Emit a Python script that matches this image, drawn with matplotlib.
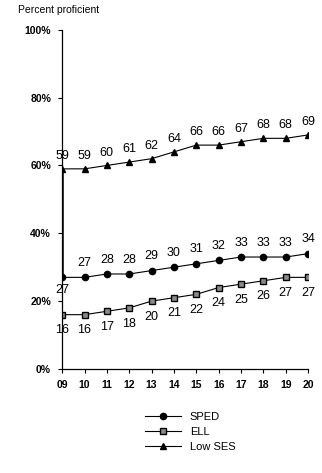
import matplotlib.pyplot as plt
import numpy as np

years = ['09', '10', '11', '12', '13', '14', '15', '16', '17', '18', '19', '20']
sped = [27, 27, 28, 28, 29, 30, 31, 32, 33, 33, 33, 34]
ell = [16, 16, 17, 18, 20, 21, 22, 24, 25, 26, 27, 27]
low_ses = [59, 59, 60, 61, 62, 64, 66, 66, 67, 68, 68, 69]
y_ticks = [0, 20, 40, 60, 80, 100]

plt.rcParams['font.family'] = ['Liberation Sans', 'DejaVu Sans']

fig = plt.figure(figsize=(3.22, 4.73), dpi=100)
ax = fig.add_axes([0.193, 0.22, 0.764, 0.717])
x = np.arange(len(years))

ax.plot(x, sped, '-', color='black', lw=0.8, marker='o', ms=4.5, label='SPED')
ax.plot(x, ell, '-', color='black', lw=0.8, marker='s', ms=4.5,
        markerfacecolor='#8a8a8a', markeredgecolor='black', label='ELL')
ax.plot(x, low_ses, '-', color='black', lw=0.8, marker='^', ms=5, label='Low SES')

# heavier stretch of the axis between the first points
ax.plot([0, 0], [sped[0], low_ses[0]], color='black', lw=1.8, zorder=3)

lab = dict(textcoords='offset points', ha='center', fontsize=9)
for i, v in enumerate(low_ses):
    ax.annotate(str(v), (i, v), xytext=(0, 5), va='bottom', **lab)
for i, v in enumerate(sped):
    if i == 0:
        ax.annotate(str(v), (i, v), xytext=(0, -5), va='top', **lab)
    else:
        ax.annotate(str(v), (i, v), xytext=(0, 6), va='bottom', **lab)
for i, v in enumerate(ell):
    ax.annotate(str(v), (i, v), xytext=(0, -7), va='top', **lab)

ax.set_xlim(0, len(years) - 1)
ax.set_ylim(0, 100)
ax.set_xticks(x)
ax.set_xticklabels(years, fontsize=7.5, fontweight='bold')
ax.set_yticks(y_ticks)
ax.set_yticklabels([f'{t}%' for t in y_ticks], fontsize=7.5, fontweight='bold')
ax.tick_params(axis='both', length=3, width=0.8, pad=5)
for s in ['top', 'right']:
    ax.spines[s].set_visible(False)
for s in ['left', 'bottom']:
    ax.spines[s].set_linewidth(0.9)

fig.text(0.055, 0.978, 'Percent proficient', fontsize=7.5, ha='left', va='center')

fig.legend(loc='upper left', bbox_to_anchor=(0.42, 0.15), frameon=False,
           handlelength=3.2, labelspacing=0.45, prop={'size': 8})

fig.savefig('out.png', dpi=100)
